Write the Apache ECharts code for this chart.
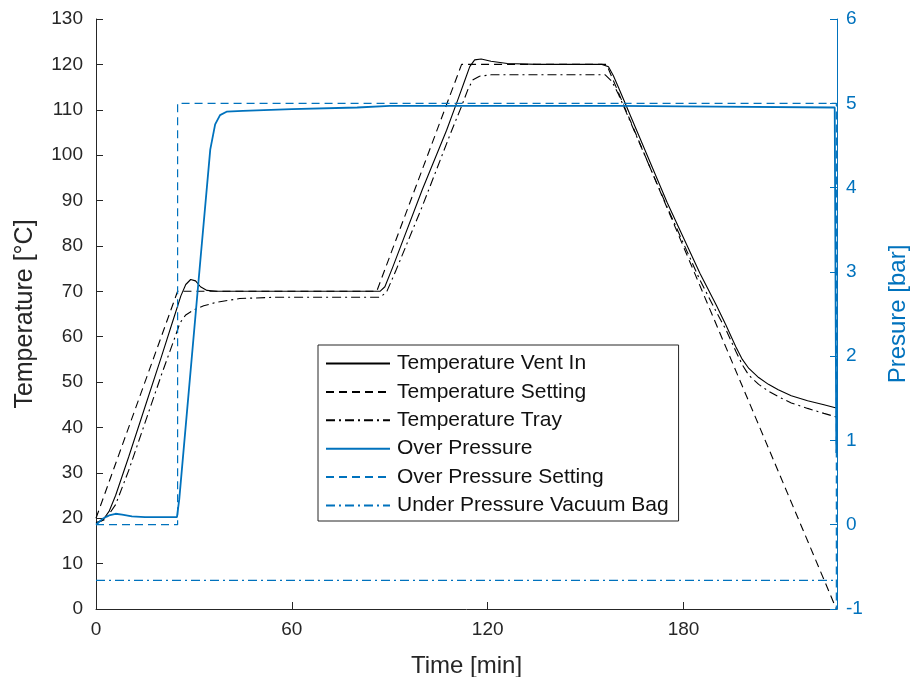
<!DOCTYPE html>
<html>
<head>
<meta charset="utf-8">
<script src="https://cdn.jsdelivr.net/npm/echarts@6/dist/echarts.min.js"></script>
<style>
  html, body { margin: 0; padding: 0; background: #fff; }
  #chart { width: 910px; height: 677px; }
</style>
</head>
<body>
<div id="chart"></div>
<script>
// [time min, temperature °C]
const ventIn = [
  [0, 19], [2, 19.5], [4, 21.5], [6, 25], [10, 33.5], [15, 44.5], [20, 55.5], [24, 64.5],
  [26, 69], [27.5, 71.5], [29, 72.6], [30.5, 72.3], [32, 71], [34, 70.2], [37, 70],
  [60, 70], [87, 70], [88.5, 71], [91, 75.5], [100, 92.5], [107.4, 105.5], [111, 112.5],
  [113, 116.5], [114.5, 119.5], [116, 121], [118, 121.2], [121, 120.7], [126, 120.2],
  [135, 120], [155, 120], [157, 119.5], [158.5, 117.5], [160, 115], [175, 89.5], [185, 74],
  [190, 67], [193, 62.5], [196, 57.8], [198, 55], [200, 53], [203, 51], [206, 49.5],
  [209, 48.3], [213, 47], [218, 45.9], [223, 45], [226.8, 44.3]
];
const tempSetting = [[0, 20], [25, 70], [86, 70], [112, 120], [156.4, 120], [226.8, 0]];
const tray = [
  [0, 19], [3, 19.8], [6, 23], [10, 30.5], [15, 41], [20, 51.5], [24, 59.5], [25.7, 63],
  [27.5, 64.8], [30, 65.9], [33, 66.8], [37, 67.6], [44, 68.4], [55, 68.7], [87, 68.7],
  [89, 69.8], [92, 74.8], [100, 88.8], [109, 105.5], [112, 110.8], [114, 114.6],
  [115.5, 116.6], [117.5, 117.4], [121, 117.7], [156, 117.7], [158, 116.3], [160, 113.5],
  [175, 88.5], [185, 72.5], [190, 65.5], [193, 61.5], [196, 56.8], [198, 53.8], [200, 51.5],
  [203, 49.5], [206, 48], [209, 46.8], [213, 45.4], [218, 44.2], [223, 43.1], [226.8, 42.3]
];
// [time min, pressure bar]
const overPressure = [
  [0, 0], [2, 0.07], [4, 0.11], [6, 0.13], [8, 0.12], [11, 0.1], [15, 0.09], [24.8, 0.09],
  [25.5, 0.3], [32, 3.15], [35, 4.45], [36.5, 4.75], [38, 4.86], [40, 4.9], [45, 4.91],
  [60, 4.93], [80, 4.95], [90, 4.97], [130, 4.97], [160, 4.97], [190, 4.96], [226.3, 4.95],
  [226.8, 0.85]
];
const pressureSetting = [[0, 0], [25, 0], [25, 5], [226.8, 5], [226.8, -1]];
const vacuumBag = [[0, -0.66], [226.8, -0.66]];

const xTicks = [0, 60, 120, 180];
const blue = '#0072BD';
const ink = '#262626';
const font = 'Liberation Sans, Arial, sans-serif';

const dashed = [8, 5];
const dashDot = [9, 4, 2, 4];

function line(name, data, axis, color, type, width) {
  return {
    name, type: 'line', data, yAxisIndex: axis, symbol: 'none',
    lineStyle: { color, type, width }, itemStyle: { color },
    emphasis: { disabled: true }
  };
}

const chart = echarts.init(document.getElementById('chart'));
chart.setOption({
  animation: false,
  textStyle: { fontFamily: font },
  grid: { left: 96, right: 73, top: 19, bottom: 68, outerBoundsMode: 'none', containLabel: false },
  legend: {
    orient: 'vertical', left: 318, top: 345,
    itemWidth: 64, itemHeight: 20, itemGap: 7.4,
    padding: [8, 10, 5, 7],
    borderColor: ink, borderWidth: 1, backgroundColor: '#fff',
    selectedMode: false,
    itemStyle: { opacity: 0 },
    textStyle: { fontSize: 21, color: '#111', fontFamily: font, lineHeight: 20, padding: [0, 0, 0, 2] }
  },
  xAxis: {
    type: 'value', min: 0, max: 227,
    name: 'Time [min]', nameLocation: 'middle', nameGap: 45,
    nameTextStyle: { fontSize: 24, color: ink, fontFamily: font },
    axisLine: { show: true, lineStyle: { color: ink } },
    axisTick: { inside: true, length: 7, customValues: xTicks, lineStyle: { color: ink } },
    axisLabel: { customValues: xTicks, fontSize: 19, color: ink, margin: 11, fontFamily: font },
    splitLine: { show: false }
  },
  yAxis: [
    {
      type: 'value', min: 0, max: 130, interval: 10, position: 'left',
      name: 'Temperature [°C]', nameLocation: 'middle', nameGap: 58,
      nameTextStyle: { fontSize: 25, color: ink, fontFamily: font },
      axisLine: { show: true, lineStyle: { color: ink } },
      axisTick: { show: true, inside: true, length: 7, lineStyle: { color: ink } },
      axisLabel: { fontSize: 19, color: ink, margin: 13, fontFamily: font },
      splitLine: { show: false }
    },
    {
      type: 'value', min: -1, max: 6, interval: 1, position: 'right',
      name: 'Presure [bar]', nameLocation: 'middle', nameGap: 49,
      nameTextStyle: { fontSize: 24, color: blue, fontFamily: font },
      axisLine: { show: true, lineStyle: { color: blue } },
      axisTick: { show: true, inside: true, length: 7, lineStyle: { color: blue } },
      axisLabel: { fontSize: 19, color: blue, margin: 9, fontFamily: font },
      splitLine: { show: false }
    }
  ],
  series: [
    line('Temperature Vent In', ventIn, 0, '#000', 'solid', 1.1),
    line('Temperature Setting', tempSetting, 0, '#000', dashed, 1.1),
    line('Temperature Tray', tray, 0, '#000', dashDot, 1.1),
    line('Over Pressure', overPressure, 1, blue, 'solid', 1.8),
    line('Over Pressure Setting', pressureSetting, 1, blue, dashed, 1.2),
    line('Under Pressure Vacuum Bag', vacuumBag, 1, blue, dashDot, 1.1)
  ]
});
</script>
</body>
</html>
